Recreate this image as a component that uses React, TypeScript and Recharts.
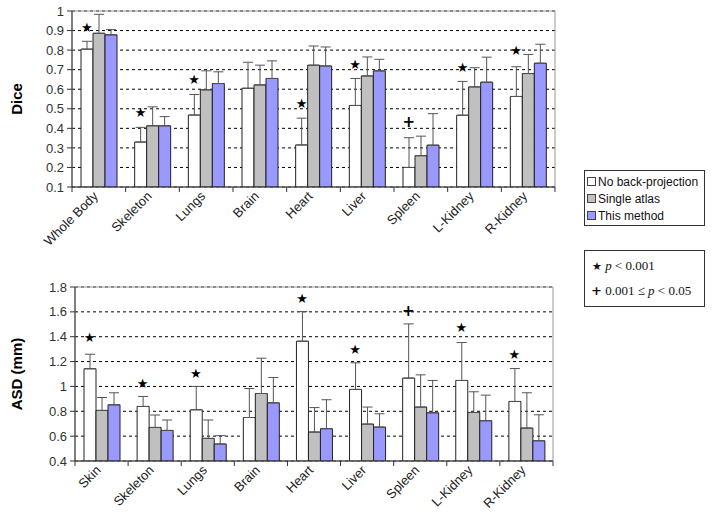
import React from 'react';
import { BarChart, Bar, XAxis, YAxis, CartesianGrid, ErrorBar, ReferenceDot, ReferenceArea, Label } from 'recharts';

const seriesNames = ['No back-projection', 'Single atlas', 'This method'];
const seriesFills = ['#ffffff', '#c0c0c0', '#9999ff'];

const diceOrgans = ['Whole Body', 'Skeleton', 'Lungs', 'Brain', 'Heart', 'Liver', 'Spleen', 'L-Kidney', 'R-Kidney'];
const diceNoBackProj = [0.805, 0.33, 0.468, 0.605, 0.315, 0.517, 0.2, 0.467, 0.563];
const diceNoBackProjTop = [0.845, 0.405, 0.573, 0.738, 0.452, 0.655, 0.352, 0.64, 0.715];
const diceSingleAtlas = [0.886, 0.413, 0.597, 0.622, 0.723, 0.668, 0.26, 0.612, 0.68];
const diceSingleAtlasTop = [0.983, 0.51, 0.694, 0.723, 0.821, 0.765, 0.36, 0.71, 0.778];
const diceThisMethod = [0.878, 0.413, 0.629, 0.655, 0.719, 0.694, 0.314, 0.636, 0.733];
const diceThisMethodTop = [0.905, 0.46, 0.689, 0.745, 0.816, 0.753, 0.475, 0.764, 0.83];
const diceMarks = ['*', '*', '*', '', '*', '*', '+', '*', '*'];
const diceMarkAt = [0.917, 0.48, 0.648, 0, 0.529, 0.728, 0.43, 0.711, 0.796];
const diceTicks = [0.1, 0.2, 0.3, 0.4, 0.5, 0.6, 0.7, 0.8, 0.9, 1];

const asdOrgans = ['Skin', 'Skeleton', 'Lungs', 'Brain', 'Heart', 'Liver', 'Spleen', 'L-Kidney', 'R-Kidney'];
const asdNoBackProj = [1.142, 0.839, 0.812, 0.75, 1.364, 0.976, 1.067, 1.048, 0.879];
const asdNoBackProjTop = [1.259, 0.919, 1.0, 0.983, 1.602, 1.19, 1.503, 1.353, 1.144];
const asdSingleAtlas = [0.807, 0.67, 0.582, 0.943, 0.633, 0.697, 0.834, 0.79, 0.665];
const asdSingleAtlasTop = [0.911, 0.77, 0.73, 1.227, 0.83, 0.834, 1.093, 0.957, 0.949];
const asdThisMethod = [0.852, 0.646, 0.537, 0.868, 0.66, 0.673, 0.788, 0.724, 0.563];
const asdThisMethodTop = [0.949, 0.73, 0.604, 1.072, 0.893, 0.78, 1.048, 0.93, 0.772];
const asdMarks = ['*', '*', '*', '', '*', '*', '+', '*', '*'];
const asdMarkAt = [1.39, 1.02, 1.104, 0, 1.706, 1.3, 1.61, 1.476, 1.26];
const asdTicks = [0.4, 0.6, 0.8, 1, 1.2, 1.4, 1.6, 1.8];

const font = '"Liberation Sans", Arial, sans-serif';
const BAR = 12;

function buildRows(organs: string[], vals: number[][], tops: number[][]) {
  return organs.map((organ, i) => ({
    organ,
    s0: vals[0][i], e0: [0, tops[0][i] - vals[0][i]],
    s1: vals[1][i], e1: [0, tops[1][i] - vals[1][i]],
    s2: vals[2][i], e2: [0, tops[2][i] - vals[2][i]],
  }));
}

const diceRows = buildRows(diceOrgans,
  [diceNoBackProj, diceSingleAtlas, diceThisMethod],
  [diceNoBackProjTop, diceSingleAtlasTop, diceThisMethodTop]);
const asdRows = buildRows(asdOrgans,
  [asdNoBackProj, asdSingleAtlas, asdThisMethod],
  [asdNoBackProjTop, asdSingleAtlasTop, asdThisMethodTop]);

const CategoryTick = (props: any) => {
  const { x, y, payload, index, visibleTicksCount } = props;
  const half = payload && payload.offset ? payload.offset : 26.6;
  const last = index === (visibleTicksCount ?? 9) - 1;
  return (
    <g>
      <line x1={x - half} x2={x - half} y1={y} y2={y + 5} stroke="#333" />
      {last && <line x1={x + half} x2={x + half} y1={y} y2={y + 5} stroke="#333" />}
      <text x={x} y={y + 10} transform={`rotate(-45 ${x} ${y + 10})`} textAnchor="end"
        fontFamily={font} fontSize={13} fill="#222">
        {payload.value}
      </text>
    </g>
  );
};

const markShape = (mark: string) => (p: any) => (
  <text x={p.cx - BAR} y={p.cy} textAnchor="middle" dominantBaseline="central"
    fontFamily='"DejaVu Sans", sans-serif' fontSize={mark === '+' ? 15 : 13} fontWeight="bold" fill="#000">
    {mark === '*' ? '\u2605' : '+'}
  </text>
);

function Panel(props: {
  rows: any[]; organs: string[]; marks: string[]; markAt: number[]; ticks: number[];
  domain: [number, number]; title: string; width: number; height: number;
  axisWidth: number; top: number; xHeight: number;
}) {
  const { rows, organs, marks, markAt, ticks, domain, title, width, height, axisWidth, top, xHeight } = props;
  return (
    <BarChart width={width} height={height} data={rows} barGap={0} barSize={BAR}
      margin={{ top, right: 15, left: 0, bottom: 0 }}>
      <ReferenceArea y1={domain[0]} y2={domain[1]} fill="none" stroke="#999" strokeWidth={1} />
      <CartesianGrid vertical={false} stroke="#000" strokeDasharray="3 3" />
      <XAxis dataKey="organ" interval={0} height={xHeight} tickLine={false} tickSize={0} tickMargin={0}
        axisLine={{ stroke: '#333' }} tick={<CategoryTick />} />
      <YAxis domain={domain} ticks={ticks} interval={0} allowDataOverflow width={axisWidth}
        axisLine={{ stroke: '#333' }} tickLine={{ stroke: '#333' }} tickSize={5} tickMargin={3}
        tick={{ fontFamily: font, fontSize: 13, fill: '#333' }}>
        <Label value={title} angle={-90} position="insideLeft" offset={17}
          style={{ fontFamily: font, fontSize: 15, fontWeight: 'bold', fill: '#000', textAnchor: 'middle' }} />
      </YAxis>
      {[0, 1, 2].map((k) => (
        <Bar key={k} dataKey={`s${k}`} name={seriesNames[k]} fill={seriesFills[k]} stroke="#222"
          strokeWidth={1} isAnimationActive={false}>
          <ErrorBar dataKey={`e${k}`} width={5} stroke="#555" strokeWidth={1} direction="y" />
        </Bar>
      ))}
      {organs.map((o, i) => marks[i] ? (
        <ReferenceDot key={o} x={o} y={markAt[i]} r={0} shape={markShape(marks[i])} />
      ) : null)}
    </BarChart>
  );
}

export default function App() {
  return (
    <div style={{ position: 'absolute', left: 0, top: 0, width: 714, height: 517, background: '#fff', fontFamily: font }}>
      <div style={{ position: 'absolute', left: 0, top: 0 }}>
        <Panel rows={diceRows} organs={diceOrgans} marks={diceMarks} markAt={diceMarkAt} ticks={diceTicks}
          domain={[0.1, 1]} title="Dice" width={570} height={262} axisWidth={72} top={11} xHeight={75} />
      </div>
      <div style={{ position: 'absolute', left: 0, top: 270 }}>
        <Panel rows={asdRows} organs={asdOrgans} marks={asdMarks} markAt={asdMarkAt} ticks={asdTicks}
          domain={[0.4, 1.8]} title="ASD (mm)" width={568} height={247} axisWidth={75} top={17} xHeight={56} />
      </div>
      <div style={{ position: 'absolute', left: 584, top: 170, width: 121, height: 56, border: '1px solid #333',
        fontSize: 12, color: '#111', paddingTop: 2, boxSizing: 'border-box' }}>
        {seriesNames.map((n, k) => (
          <div key={n} style={{ display: 'flex', alignItems: 'center', height: 17, paddingLeft: 2, whiteSpace: 'nowrap' }}>
            <span style={{ display: 'inline-block', flexShrink: 0, width: 7, height: 7, border: '1px solid #444',
              background: seriesFills[k], marginRight: 2 }} />
            {n}
          </div>
        ))}
      </div>
      <div style={{ position: 'absolute', left: 584, top: 250, width: 121, height: 57, border: '1px solid #333',
        fontFamily: '"Liberation Serif", serif', fontSize: 13, color: '#111', boxSizing: 'border-box' }}>
        <div style={{ position: 'absolute', left: 7, top: 7, whiteSpace: 'nowrap' }}>
          <span style={{ fontFamily: '"DejaVu Sans", sans-serif', fontSize: 11 }}>{'\u2605'}</span>{' '}
          <i>p</i> &lt; 0.001
        </div>
        <div style={{ position: 'absolute', left: 6, top: 32, whiteSpace: 'nowrap' }}>
          <b style={{ fontFamily: '"DejaVu Sans", sans-serif' }}>+</b> 0.001 ≤ <i>p</i> &lt; 0.05
        </div>
      </div>
    </div>
  );
}
